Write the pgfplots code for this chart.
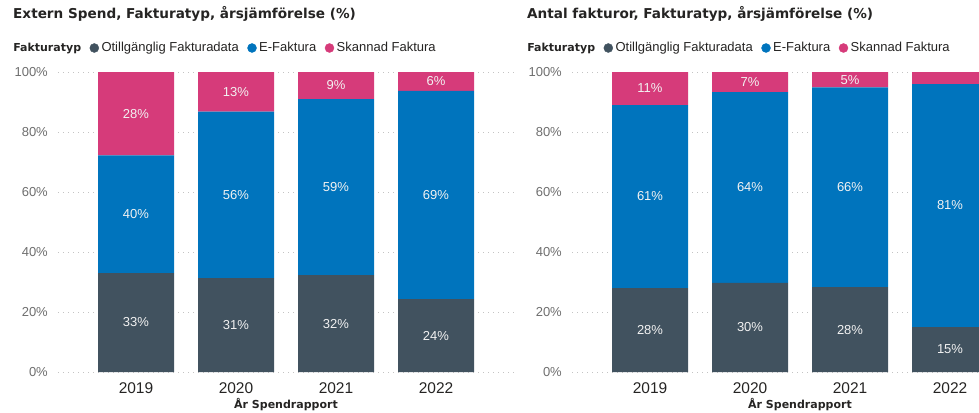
\documentclass[border=0pt]{standalone}
\usepackage{pgfplots}
\pgfplotsset{compat=1.18}
\usepackage{fontspec}
\setmainfont{Liberation Sans}
\newfontfamily\headfont{DejaVu Sans Bold}
\definecolor{cdark}{HTML}{41525F}
\definecolor{cblue}{HTML}{0074BD}
\definecolor{cpink}{HTML}{D63B7A}
\definecolor{ctext}{HTML}{252423}
\definecolor{ctick}{HTML}{6E6E6E}
\definecolor{cgrid}{HTML}{C4C4C4}
\definecolor{clab}{HTML}{F2F2F2}
\pgfplotsset{
  panel/.style={
    scale only axis, width=456pt, height=300pt,
    xmin=-0.78, xmax=3.78, ymin=0, ymax=100,
    axis line style={draw=none},
    major tick length=0pt,
    xtick={0,1,2,3}, xticklabels={2019,2020,2021,2022},
    ytick={0,20,40,60,80,100},
    yticklabels={0\%,20\%,40\%,60\%,80\%,100\%},
    ymajorgrids,
    grid style={cgrid, line width=0.8pt, dash pattern=on 0.8pt off 4.2pt},
    yticklabel style={font=\fontsize{13}{15}\selectfont, text=ctick, inner sep=0pt, anchor=east, xshift=-10pt},
    xticklabel style={font=\fontsize{15.5}{18}\selectfont, text=ctext, inner sep=0pt, anchor=north, yshift=-10pt},
    xlabel style={at={(axis description cs:0.5,0)}, anchor=base, yshift=-36pt, inner sep=0pt, font=\headfont\fontsize{11}{13}\selectfont, text=ctext},
    title style={at={(axis description cs:-0.0987,1.1583)}, anchor=base west, inner sep=0pt, font=\headfont\fontsize{13.6}{16}\selectfont, text=ctext},
    clip=false,
  },
  bars/.style={panel, ybar stacked, bar width=76pt,
    legend columns=-1,
    legend style={draw=none, fill=none, at={(axis description cs:-0.104,1.08)}, anchor=west, inner sep=0pt,
      font=\fontsize{13}{15}\selectfont, text=ctext,
      nodes={inner sep=0pt},
      /tikz/every odd column/.append style={column sep=2.5pt},
      /tikz/every even column/.append style={column sep=8.5pt}},
  },
  labs/.style={panel, hide axis, ymajorgrids=false, xtick=\empty, ytick=\empty},
  lab/.style={draw=none, mark=none, nodes near coords, point meta=explicit symbolic,
    nodes near coords align={center},
    every node near coord/.append style={font=\fontsize{13}{15}\selectfont, text=clab, inner sep=0pt}},
  dotimg/.style={legend image code/.code={\fill[#1] (4.5pt,0pt) circle (4.5pt);}},
}
\begin{document}
\begin{tikzpicture}
\useasboundingbox (0pt,0pt) rectangle (979pt,-412pt);
\clip (0pt,0pt) rectangle (979pt,-412pt);
% ---------- left panel ----------
\begin{axis}[bars, at={(58pt,-372pt)}, anchor=south west,
  title={Extern Spend, Fakturatyp, årsjämförelse (\%)},
  xlabel={År Spendrapport}]
\addlegendimage{empty legend}\addlegendentry{{\headfont\fontsize{11}{13}\selectfont Fakturatyp}}
\addlegendimage{dotimg=cdark}\addlegendentry{Otillgänglig Fakturadata}
\addlegendimage{dotimg=cblue}\addlegendentry{E-Faktura}
\addlegendimage{dotimg=cpink}\addlegendentry{Skannad Faktura}
\addplot[fill=cdark, draw=none] coordinates {(0,33) (1,31.3) (2,32.3) (3,24.3)};
\addplot[fill=cblue, draw=none] coordinates {(0,39.2) (1,55.5) (2,58.7) (3,69.4)};
\addplot[fill=cpink, draw=none] coordinates {(0,27.8) (1,13.2) (2,9.0) (3,6.3)};
\end{axis}
\begin{axis}[labs, at={(58pt,-372pt)}, anchor=south west]
\addplot[lab] coordinates {
(0,16.5) [33\%] (0,52.6) [40\%] (0,86.1) [28\%]
(1,15.65) [31\%] (1,59.05) [56\%] (1,93.4) [13\%]
(2,16.15) [32\%] (2,61.65) [59\%] (2,95.5) [9\%]
(3,12.15) [24\%] (3,59.0) [69\%] (3,96.85) [6\%]
};
\end{axis}
% ---------- right panel ----------
\begin{axis}[bars, at={(572pt,-372pt)}, anchor=south west,
  title={Antal fakturor, Fakturatyp, årsjämförelse (\%)},
  xlabel={År Spendrapport}]
\addlegendimage{empty legend}\addlegendentry{{\headfont\fontsize{11}{13}\selectfont Fakturatyp}}
\addlegendimage{dotimg=cdark}\addlegendentry{Otillgänglig Fakturadata}
\addlegendimage{dotimg=cblue}\addlegendentry{E-Faktura}
\addlegendimage{dotimg=cpink}\addlegendentry{Skannad Faktura}
\addplot[fill=cdark, draw=none] coordinates {(0,28) (1,29.7) (2,28.3) (3,15)};
\addplot[fill=cblue, draw=none] coordinates {(0,61) (1,63.6) (2,66.6) (3,81)};
\addplot[fill=cpink, draw=none] coordinates {(0,11) (1,6.7) (2,5.1) (3,4)};
\end{axis}
\begin{axis}[labs, at={(572pt,-372pt)}, anchor=south west]
\addplot[lab] coordinates {
(0,14) [28\%] (0,58.5) [61\%] (0,94.5) [11\%]
(1,14.85) [30\%] (1,61.5) [64\%] (1,96.65) [7\%]
(2,14.15) [28\%] (2,61.6) [66\%] (2,97.45) [5\%]
(3,7.5) [15\%] (3,55.5) [81\%]
};
\end{axis}
\end{tikzpicture}
\end{document}
